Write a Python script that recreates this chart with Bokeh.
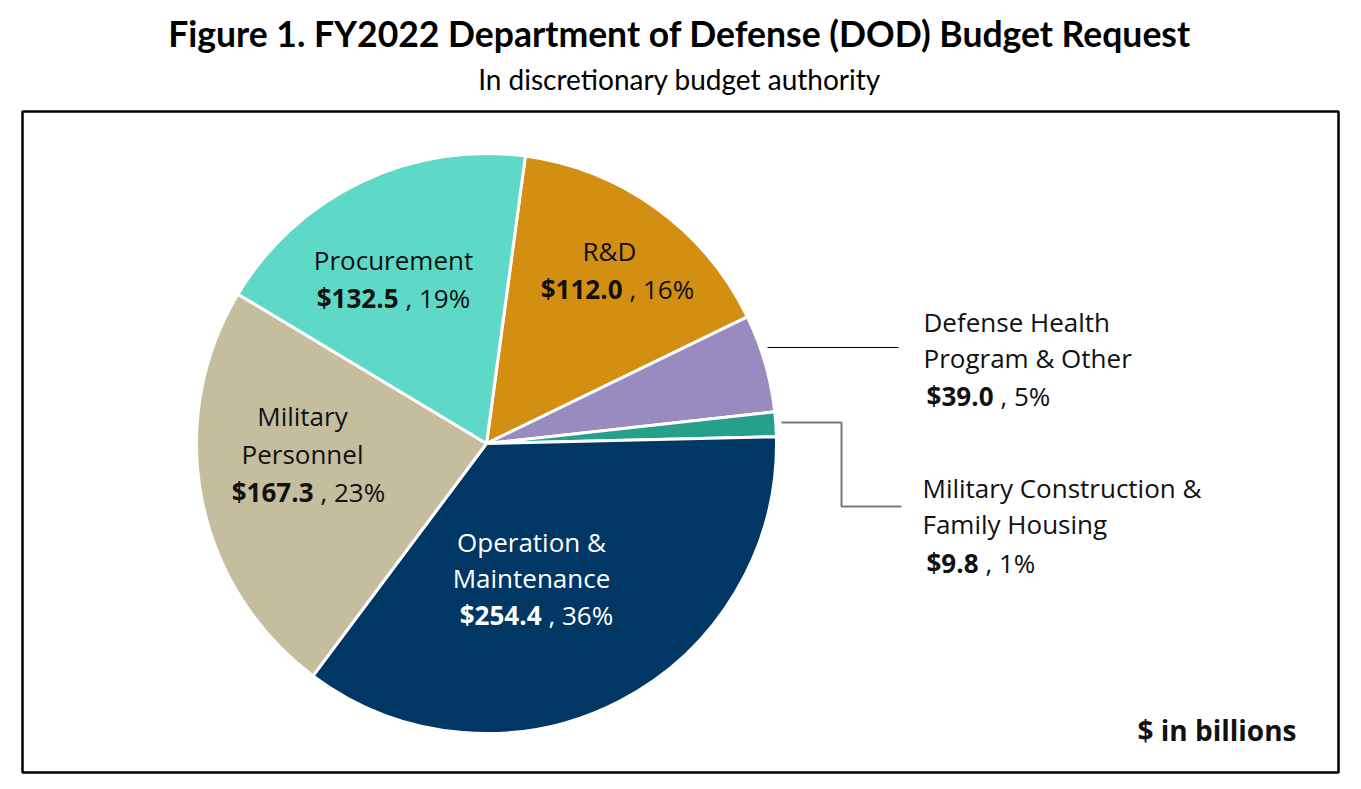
import math
from bokeh.plotting import figure
from bokeh.models import Range1d, ColumnDataSource
from bokeh.core.properties import value
from bokeh.embed import file_html
from bokeh.resources import INLINE

# ---- data ----
categories = ["R&D", "Defense Health Program & Other", "Military Construction & Family Housing",
              "Operation & Maintenance", "Military Personnel", "Procurement"]
amounts = [112.0, 39.0, 9.8, 254.4, 167.3, 132.5]
percent_labels = ["16%", "5%", "1%", "36%", "23%", "19%"]
colors = ["#D28F12", "#978BC0", "#27A08B", "#003764", "#C4BE9F", "#5ED9C8"]

W, H = 1361, 789
FONT = "Open Sans"
TITLE_FONT = "Lato"

p = figure(width=W, height=H, output_backend="svg", toolbar_location=None,
           x_range=Range1d(0, W), y_range=Range1d(0, H), min_border=0,
           background_fill_color="white", border_fill_color="white")
p.axis.visible = False
p.grid.visible = False
p.outline_line_color = None


def Y(py):
    return H - py


# frame
p.rect(x=[(22 + 1338) / 2], y=[Y((111 + 772) / 2)], width=[1338 - 22], height=[772 - 111],
       fill_color=None, line_color="black", line_width=2.5)

# pie
cx, cy, r = 486, Y(443), 290
start_compass = 7.7
total = sum(amounts)
starts, ends = [], []
acc = start_compass
for a in amounts:
    sweep = a / total * 360.0
    starts.append(math.radians(90 - acc))
    ends.append(math.radians(90 - acc - sweep))
    acc += sweep
src = ColumnDataSource(dict(start=starts, end=ends, color=colors, cat=categories))
p.wedge(x=cx, y=cy, radius=r, start_angle="start", end_angle="end", direction="clock",
        fill_color="color", line_color="white", line_width=3, source=src)

# leader lines
p.line(x=[767, 898], y=[Y(347), Y(347)], line_color="black", line_width=1.2)
p.line(x=[781, 841, 841, 901], y=[Y(422), Y(422), Y(506), Y(506)], line_color="#7a7a7a", line_width=2)

FS = "26px"


def txt(x, y, s, align="center", bold=False, color="#111111", size=FS, font=FONT):
    p.text(x=[x], y=[Y(y)], text=[s], text_align=align, text_baseline="middle",
           text_font=value(font), text_font_size=size, text_color=color,
           text_font_style="bold" if bold else "normal")


def amount_line(xsplit, y, idx, color="#111111"):
    txt(xsplit, y, "$%.1f" % amounts[idx], align="right", bold=True, color=color)
    txt(xsplit + 7, y, ", " + percent_labels[idx], align="left", color=color)


# Procurement
txt(393, 259, "Procurement")
amount_line(398, 297, 5)
# R&D
txt(609, 250, "R&D")
amount_line(622, 288, 0)
# DHP
txt(923, 321, "Defense Health", align="left")
txt(923, 357, "Program & Other", align="left")
amount_line(993, 395, 1)
# MilCon
txt(922, 487, "Military Construction &", align="left")
txt(922, 523, "Family Housing", align="left")
amount_line(978, 562, 2)
# O&M
txt(531, 541, "Operation &", color="white")
txt(531, 577, "Maintenance", color="white")
amount_line(541, 614, 3, color="white")
# Military Personnel
txt(302, 415, "Military")
txt(302, 453, "Personnel")
amount_line(313, 491, 4)

# units note
txt(1296, 729, "$ in billions", align="right", bold=True, size="28px")

# titles
txt(679, 33, "Figure 1. FY2022 Department of Defense (DOD) Budget Request", bold=True,
    color="black", size="35.5px", font=TITLE_FONT)
txt(679, 78, "In discretionary budget authority", color="black", size="28px", font=TITLE_FONT)

open("out.html", "w").write(file_html(p, INLINE))
